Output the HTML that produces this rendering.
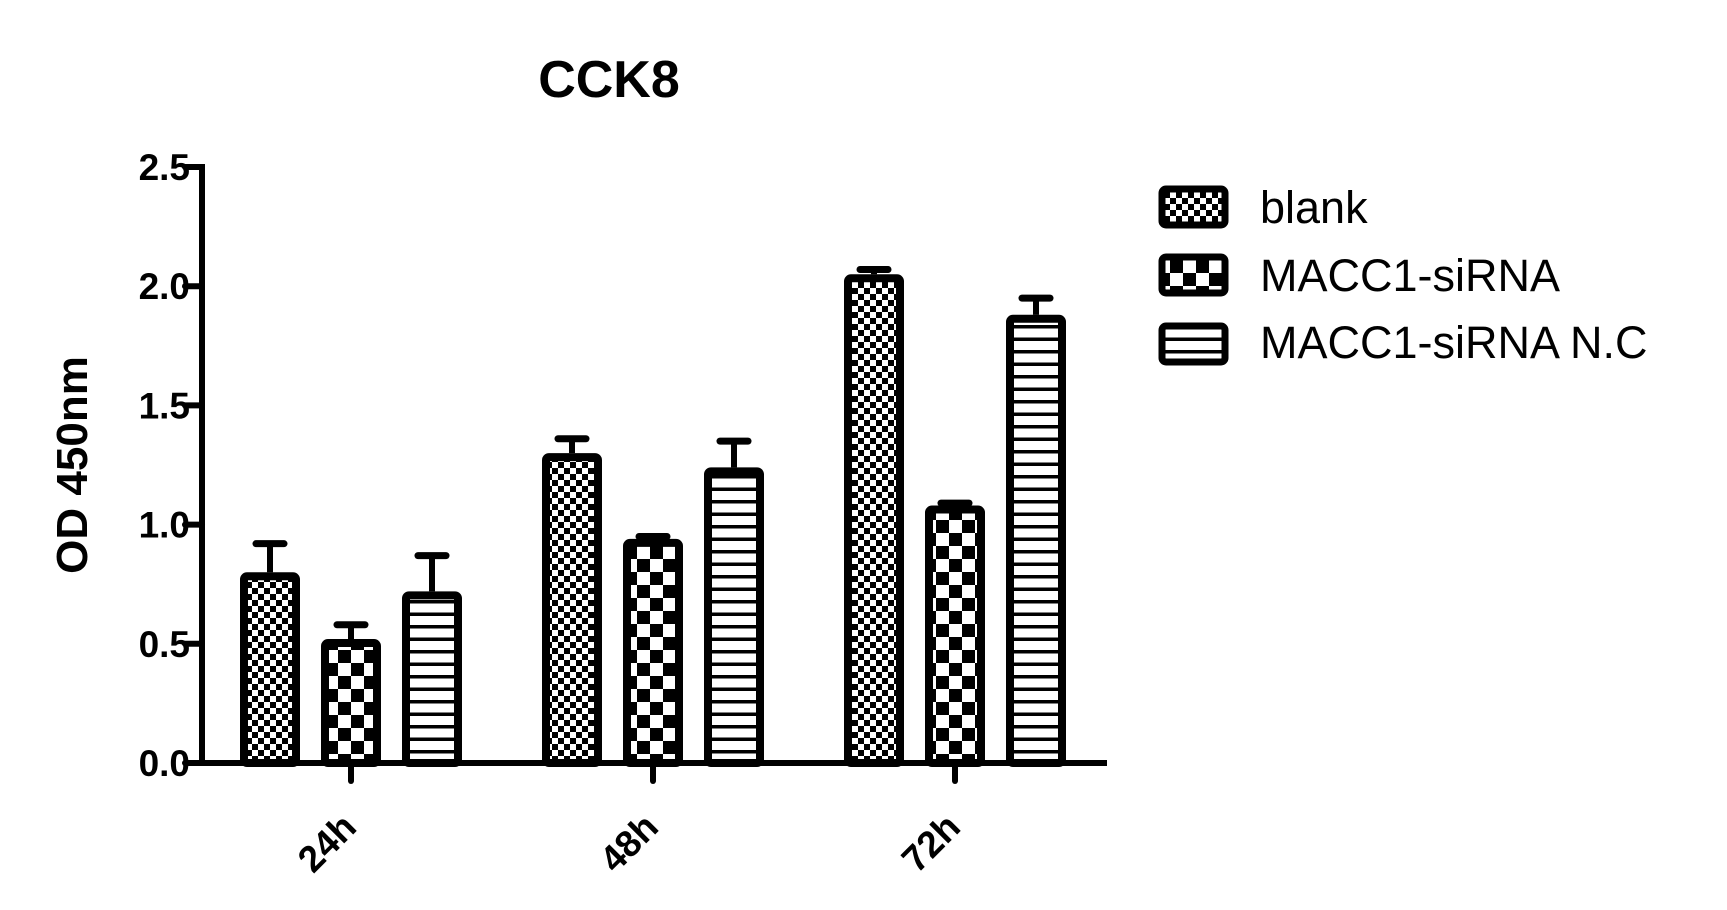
<!DOCTYPE html>
<html><head><meta charset="utf-8"><style>
html,body{margin:0;padding:0;background:#fff;}
svg{display:block;font-family:"Liberation Sans",Arial,sans-serif;}
</style></head><body>
<svg id="chart" width="1727" height="910" viewBox="0 0 1727 910" xmlns="http://www.w3.org/2000/svg">
<defs>
<pattern id="pFine" patternUnits="userSpaceOnUse" width="12" height="12">
<rect width="12" height="12" fill="#fff"/><rect x="0" y="0" width="6" height="6" fill="#000"/><rect x="6" y="6" width="6" height="6" fill="#000"/>
</pattern>
<pattern id="pCoarse" patternUnits="userSpaceOnUse" width="26" height="26">
<rect width="26" height="26" fill="#fff"/><rect x="0" y="0" width="13" height="13" fill="#000"/><rect x="13" y="13" width="13" height="13" fill="#000"/>
</pattern>
<pattern id="pLines" patternUnits="userSpaceOnUse" width="12" height="12.5">
<rect width="12" height="12.5" fill="#fff"/><rect x="0" y="0" width="12" height="3.5" fill="#000"/>
</pattern>
</defs>
<text x="609" y="97" font-size="52" font-weight="bold" text-anchor="middle">CCK8</text>
<text x="0" y="0" font-size="44" font-weight="bold" text-anchor="middle" transform="translate(87,465) rotate(-90)">OD 450nm</text>
<g id="axes"></g>
<g id="bars"></g>
<g>
<g>
<rect x="1162" y="189" width="63" height="36" rx="4" fill="url(#pFine)" stroke="#000" stroke-width="7"/>
<text x="1260" y="223" font-size="45">blank</text></g>
<g>
<rect x="1162" y="257" width="63" height="36" rx="4" fill="url(#pCoarse)" stroke="#000" stroke-width="7"/>
<text x="1260" y="291" font-size="45">MACC1-siRNA</text></g>
<g>
<rect x="1162" y="326" width="63" height="36" rx="4" fill="url(#pLines)" stroke="#000" stroke-width="7"/>
<text x="1260" y="358" font-size="45">MACC1-siRNA N.C</text></g>
</g>
</svg>
<script>
const categories = ["24h","48h","72h"];
const seriesNames = ["blank","MACC1-siRNA","MACC1-siRNA N.C"];
const blankVals = [0.80, 1.30, 2.05];
const sirnaVals = [0.52, 0.94, 1.08];
const ncVals = [0.72, 1.24, 1.88];
const blankErr = [0.12, 0.06, 0.02];
const sirnaErr = [0.06, 0.01, 0.01];
const ncErr = [0.15, 0.11, 0.07];
const yTicks = [0.0, 0.5, 1.0, 1.5, 2.0, 2.5];
const yTickLabels = ["0.0","0.5","1.0","1.5","2.0","2.5"];

const NS = "http://www.w3.org/2000/svg";
const y0 = 763, yTop = 167, yMax = 2.5;
function yScale(v){ return y0 - v/yMax*(y0-yTop); }
const axisX = 202, axisEnd = 1107;
const groupStart = 240, groupStep = 302, barW = 60, barStep = 81;
function groupCenter(i){ return groupStart + i*groupStep + barStep + barW/2; }
function barX(i,s){ return groupStart + i*groupStep + s*barStep; }
function mk(tag, attrs, parent){ const e=document.createElementNS(NS,tag); for(const k in attrs) e.setAttribute(k,attrs[k]); parent.appendChild(e); return e; }

const axes = document.getElementById('axes');
const yAxis = mk('line',{x1:axisX,y1:yTop-3,x2:axisX,y2:y0+3,stroke:'#000','stroke-width':6},axes);


const xAxis = mk('line',{x1:axisX-17,y1:y0,x2:axisEnd,y2:y0,stroke:'#000','stroke-width':6},axes);


yTicks.forEach((t,i)=>{
  const y=yScale(t);
  const tk = mk('line',{x1:axisX-17,y1:y,x2:axisX,y2:y,stroke:'#000','stroke-width':6,'stroke-linecap':'round'},axes);
  
  
  const lb = mk('text',{x:190,y:y+13,'font-size':37,'font-weight':'bold','text-anchor':'end'},axes);
  lb.textContent = yTickLabels[i];
  
  
});
categories.forEach((c,i)=>{
  const cx=groupCenter(i);
  const tk = mk('line',{x1:cx,y1:y0,x2:cx,y2:y0+18,stroke:'#000','stroke-width':6,'stroke-linecap':'round'},axes);
  
  
  const lx=cx-24, ly=y0+80;
  const lb = mk('text',{x:lx,y:ly,'font-size':37,'font-weight':'bold','text-anchor':'middle','dominant-baseline':'central',transform:`rotate(-45 ${lx} ${ly})`},axes);
  lb.textContent = c;
  
  
});

const bars = document.getElementById('bars');
const allVals=[blankVals,sirnaVals,ncVals], allErr=[blankErr,sirnaErr,ncErr];
const fills=['url(#pFine)','url(#pCoarse)','url(#pLines)'];
const keys=['blank','sirna','nc'];
categories.forEach((c,i)=>{
  allVals.forEach((vals,s)=>{
    const x=barX(i,s), top=yScale(vals[i]), et=yScale(vals[i]+allErr[s][i]);
    const cx=x+barW/2;
    const eb = mk('line',{x1:cx,y1:top,x2:cx,y2:et,stroke:'#000','stroke-width':6},bars);
    
    
    const cap = mk('line',{x1:cx-14,y1:et,x2:cx+14,y2:et,stroke:'#000','stroke-width':7,'stroke-linecap':'round'},bars);
    
    
    const r = mk('rect',{x:x+4,y:top+4,width:barW-8,height:Math.max(0,y0-top-4),fill:fills[s],stroke:'#000','stroke-width':8,rx:3},bars);
    
    
  });
});
</script>
</body></html>
